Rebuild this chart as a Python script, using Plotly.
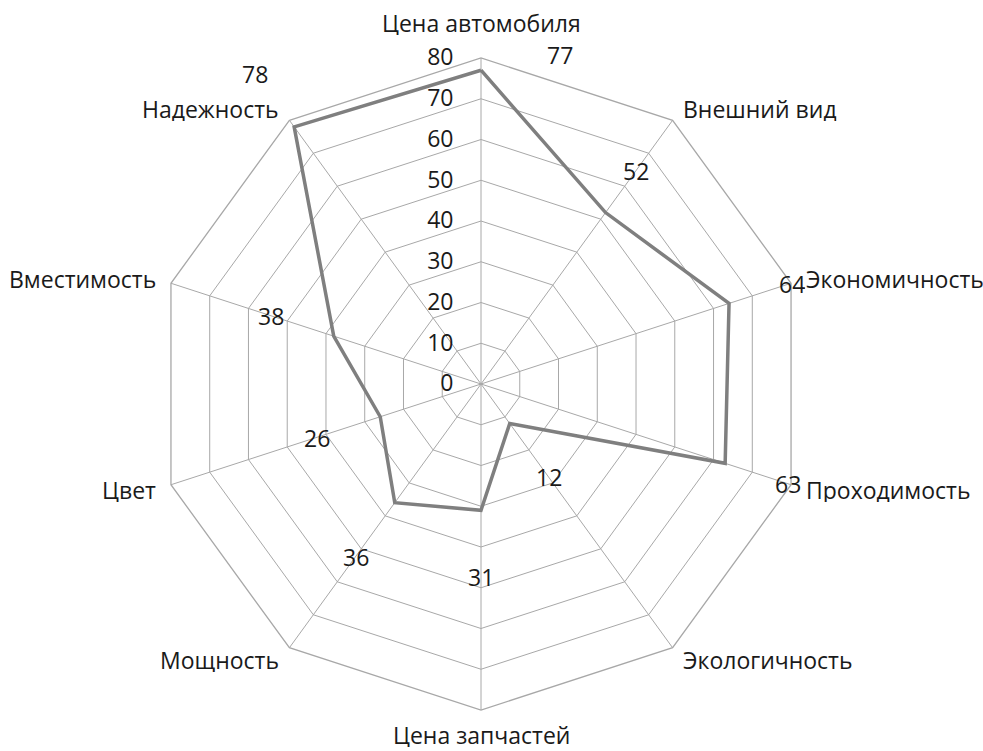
import math
import plotly.graph_objects as go

# Оценка автомобиля по критериям
categories = [
    "Цена автомобиля", "Внешний вид", "Экономичность", "Проходимость",
    "Экологичность", "Цена запчастей", "Мощность", "Цвет",
    "Вместимость", "Надежность",
]
scores = [77, 52, 64, 63, 12, 31, 36, 26, 38, 78]
radial_ticks = [0, 10, 20, 30, 40, 50, 60, 70, 80]

W, H = 983, 751
CX, CY, R = 481, 384, 326          # centre and outer radius of the polar area, px
RMAX = 80
FONT = "Open Sans"
FS = 23
BOX_H = 25
TXT = "#1a1a1a"
GRID = "#a8a8a8"
LINE = "#7f7f7f"

fig = go.Figure()
fig.add_trace(go.Scatterpolar(
    r=scores + scores[:1],
    theta=categories + categories[:1],
    mode="lines",
    line=dict(color=LINE, width=3.5),
    hoverinfo="skip",
))

n = len(categories)


def to_paper(px, py):
    return px / W, 1 - py / H


annotations = []

# value labels: pushed outward along each spoke
pad_default = 66
label_pad = {1: 52}
label_shift = {0: (79, 16)}
for i, v in enumerate(scores):
    ang = math.radians(360 * i / n)
    rp = v / RMAX * R
    x, y = to_paper(CX + rp * math.sin(ang), CY - rp * math.cos(ang))
    if i in label_shift:
        xs, ys = label_shift[i]
    else:
        pad = label_pad.get(i, pad_default)
        xs, ys = pad * math.sin(ang), pad * math.cos(ang)
    annotations.append(dict(
        x=x, y=y, xref="paper", yref="paper",
        text=str(v), showarrow=False, xshift=xs, yshift=ys,
        xanchor="center", yanchor="middle", height=BOX_H,
        font=dict(family=FONT, size=FS, color=TXT),
    ))

# category names just outside the outer polygon's corners
for i, name in enumerate(categories):
    ang = math.radians(360 * i / n)
    s, c = math.sin(ang), math.cos(ang)
    x, y = to_paper(CX + R * s, CY - R * c)
    if abs(s) < 0.1:
        pad = 36 if c > 0 else 24
        xanchor = "center"
    else:
        pad = 14
        xanchor = "left" if s > 0 else "right"
    annotations.append(dict(
        x=x, y=y, xref="paper", yref="paper",
        text=name, showarrow=False, xshift=pad * s, yshift=pad * c,
        xanchor=xanchor, yanchor="middle", height=BOX_H,
        font=dict(family=FONT, size=FS, color=TXT),
    ))

fig.update_layout(
    width=W, height=H,
    margin=dict(l=0, r=0, t=0, b=0),
    paper_bgcolor="white",
    showlegend=False,
    font=dict(family=FONT, size=FS, color=TXT),
    annotations=annotations,
    polar=dict(
        domain=dict(x=[(CX - R) / W, (CX + R) / W], y=[1 - (CY + R) / H, 1 - (CY - R) / H]),
        bgcolor="white",
        gridshape="linear",
        angularaxis=dict(
            type="category", direction="clockwise", rotation=90,
            showline=True, linecolor=GRID, linewidth=1.3,
            gridcolor=GRID, gridwidth=1.3, ticks="", showticklabels=False,
        ),
        radialaxis=dict(
            range=[0, RMAX], tickvals=radial_ticks, angle=90, tickangle=90,
            side="counterclockwise", showline=False,
            ticks="outside", ticklen=19, tickcolor="rgba(0,0,0,0)",
            gridcolor=GRID, gridwidth=1.3,
            tickfont=dict(family=FONT, size=FS, color=TXT),
        ),
    ),
)

fig.write_html("out.html")
